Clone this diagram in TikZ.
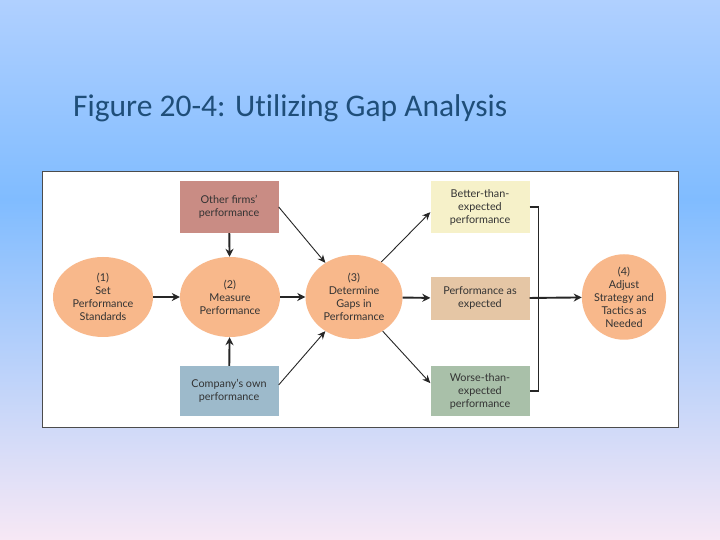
\documentclass[tikz,border=0pt]{standalone}
\usepackage{fontspec}
\setmainfont{Lato}
\newfontfamily\titlefont[Ligatures=NoCommon]{Carlito}
\usetikzlibrary{arrows.meta,positioning,shapes.geometric}

\definecolor{skytop}{HTML}{B0D0FF}
\definecolor{skymid}{HTML}{80BCFF}
\definecolor{skybot}{HTML}{F7E8F5}
\definecolor{titleblue}{HTML}{1F4E79}
\definecolor{stagefill}{HTML}{F8B88B}
\definecolor{otherfill}{HTML}{C98C84}
\definecolor{ownfill}{HTML}{9DBACB}
\definecolor{betterfill}{HTML}{F6F1C9}
\definecolor{asfill}{HTML}{E5C6A5}
\definecolor{worsefill}{HTML}{A9C0A9}

\begin{document}
\begin{tikzpicture}[x=1pt,y=1pt,
    stage/.style={ellipse,fill=stagefill,inner sep=0pt,align=center,
      text=black!80,font=\fontsize{10.8}{13}\selectfont},
    infobox/.style={rectangle,inner sep=0pt,minimum width=99pt,align=center,
      text=black!80,font=\fontsize{10.8}{13}\selectfont},
    flow/.style={-{Stealth[length=8pt,width=8pt]},line width=1.9pt,black!85},
    feed/.style={-{Stealth[length=8pt,width=7pt]},line width=0.9pt,black!85}]
  % background
  \shade[top color=skytop,bottom color=skymid] (0,540) rectangle (720,340);
  \shade[top color=skymid,bottom color=skybot] (0,340.5) rectangle (720,0);
  \useasboundingbox (0,0) rectangle (720,540);
  \node[anchor=base west,inner sep=0pt,text=titleblue,
    font=\titlefont\fontsize{31.5}{36}\selectfont] (title) at (73,423)
    {Figure 20-4: Utilizing Gap Analysis};
  \draw[fill=white,draw=black!70,line width=0.8pt] (42,369) rectangle (678,113);

  % stages
  \node[stage,minimum width=100pt,minimum height=80pt] (setstd) at (103,243)
    {(1)\\Set\\Performance\\Standards};
  \node[stage,minimum width=100pt,minimum height=80pt] (measure) at (230,243)
    {(2)\\Measure\\Performance};
  \node[stage,minimum width=97pt,minimum height=84pt] (gaps) at (354,243)
    {(3)\\Determine\\Gaps in\\Performance};
  \node[stage,minimum width=81pt,minimum height=84pt] (adjust) at (624,243)
    {(4)\\Adjust\\Strategy and\\Tactics as\\Needed};

  % inputs and outcomes
  \node[infobox,fill=otherfill,minimum height=52pt] (others) at (229,333)
    {Other firms'\\performance};
  \node[infobox,fill=ownfill,minimum height=50pt] (own) at (229,149)
    {Company's own\\performance};
  \node[infobox,fill=betterfill,minimum height=52pt] (better) at (480,333)
    {Better-than-\\expected\\performance};
  \node[infobox,fill=asfill,minimum height=43pt] (asexp) at (480,241.5)
    {Performance as\\expected};
  \node[infobox,fill=worsefill,minimum height=50pt] (worse) at (480,149)
    {Worse-than-\\expected\\performance};

  % connectors
  \draw[flow] (setstd) -- (measure);
  \draw[flow] (measure) -- (gaps);
  \draw[flow] (others) -- (measure);
  \draw[flow] (own) -- (measure);
  \draw[feed] (others.east) -- (gaps.130);
  \draw[feed] (own.7) -- (gaps.230);
  \draw[feed] (gaps.52) -- (better.186);
  \draw[flow] (gaps) -- (asexp);
  \draw[feed] (gaps.310) -- (worse.171);
  \draw[line width=1.2pt,black!85] (better.east) -- ++(9,0) |- (worse.east);
  \draw[flow] (asexp) -- (adjust);
\end{tikzpicture}
\end{document}
